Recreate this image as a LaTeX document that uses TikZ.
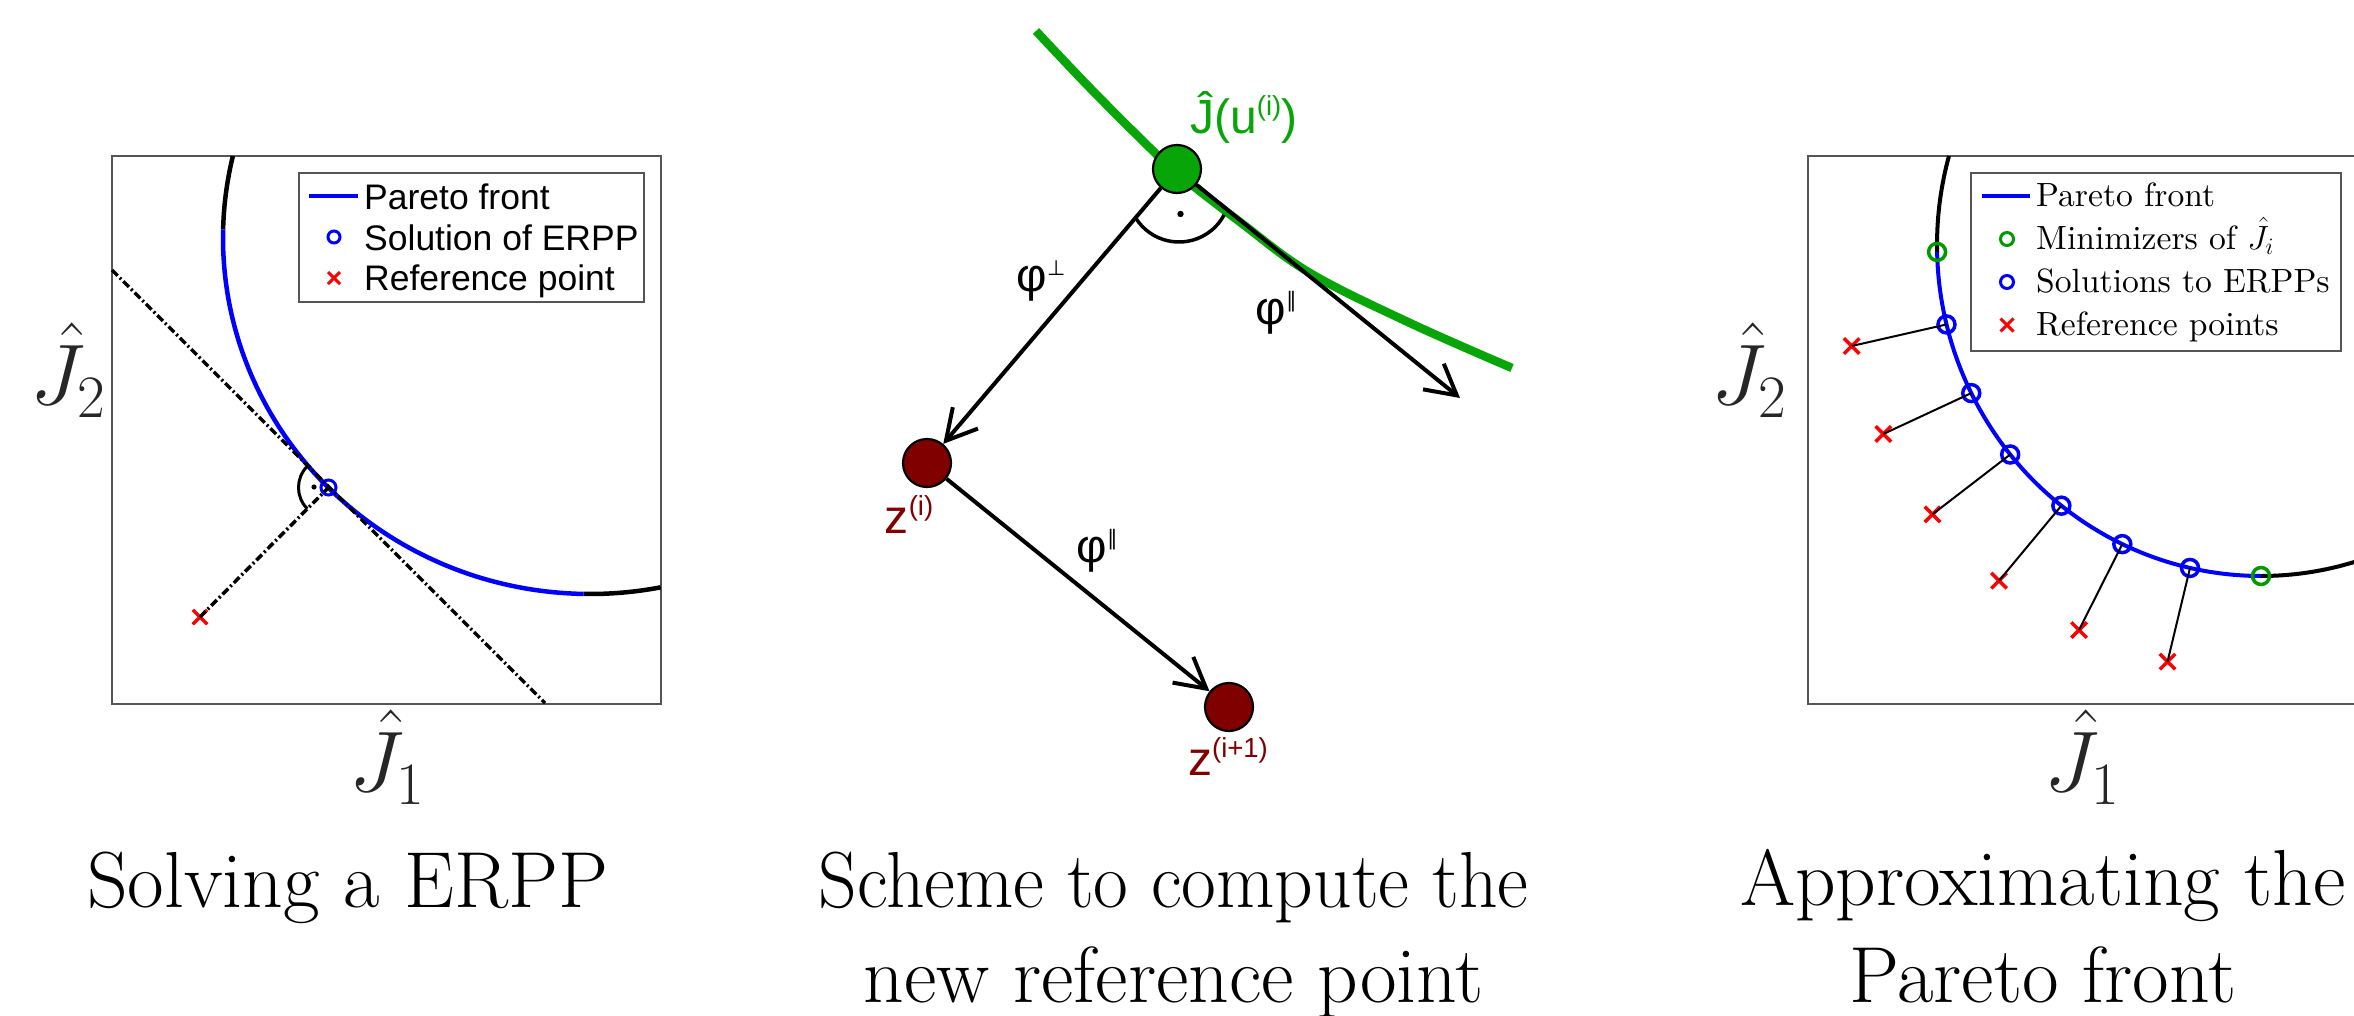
\RequirePackage{fix-cm}
\documentclass[tikz,border=0pt]{standalone}
\usepackage{fontspec}
\usepackage{graphicx}
\setmainfont{Latin Modern Roman}
\newfontfamily\lmten{lmroman10-regular.otf}
\newfontfamily\lsans{Liberation Sans}
\newfontfamily\dvs{DejaVu Sans}
\usetikzlibrary{arrows.meta,shapes.misc}
\definecolor{pblue}{RGB}{0,0,255}
\definecolor{pred}{RGB}{255,0,0}
\definecolor{pgreen}{RGB}{0,153,0}
\definecolor{mgreen}{RGB}{8,165,8}
\definecolor{maroon}{RGB}{128,0,0}
\definecolor{boxc}{RGB}{85,85,85}
\definecolor{axc}{RGB}{38,38,38}
\newcommand\capfont{\fontsize{79.5}{95}\selectfont}
\newcommand\axfont{\fontsize{86}{100}\selectfont}
\newcommand\midfont{\lsans\fontsize{48}{55}\selectfont}
\newcommand\sups[1]{\raisebox{0.36em}{\fontsize{27.5}{32}\selectfont #1}}
\newcommand\phisup[1]{φ\raisebox{0.36em}{\dvs\fontsize{21}{24}\selectfont #1}}
\tikzset{
  frame/.style={draw=boxc, line width=1.6},
  legbox/.style={draw=boxc, line width=1.3, fill=white},
  front/.style={line width=4.5, draw=pblue},
  rest/.style={line width=4.5, draw=black},
  solmark/.style={circle, draw=pblue, line width=3, minimum size=15pt, inner sep=0pt},
  minmark/.style={circle, draw=pgreen, line width=3.5, minimum size=17pt, inner sep=0pt},
  refmark/.style={cross out, draw=pred, line width=3.5, minimum size=11pt, inner sep=0pt},
  dashdot/.style={line width=3.5, dash pattern=on 8pt off 3pt on 2pt off 3pt},
  ptnode/.style={circle, draw=black, line width=2.2, minimum size=48pt, inner sep=0pt},
  arr/.style={line width=4, -{Straight Barb[length=30pt,width=33pt]}},
  legsans/.style={anchor=base west, font=\lsans\fontsize{35.5}{40}\selectfont, inner sep=0pt},
  legserif/.style={anchor=base west, font=\lmten\fontsize{33.6}{40}\selectfont, inner sep=0pt},
  captext/.style={anchor=base, font=\capfont, inner sep=0pt},
  axlab/.style={text=axc, font=\axfont, inner sep=0pt},
  midlab/.style={font=\midfont, inner sep=0pt},
  philab/.style={font=\lsans\fontsize{47}{54}\selectfont, inner sep=0pt}
}
\begin{document}
\begin{tikzpicture}[x=1pt,y=-1pt]
\useasboundingbox (0,0) rectangle (2354,1015);
\fill[white] (0,0) rectangle (2354,1015);

% ---------------- left panel ----------------
\draw[frame] (112,156) rectangle (661,704);
\draw[rest] plot[domain=193.3:181.4, samples=20] ({590+367*cos(\x)},{238+356*sin(\x)});
\draw[front] plot[domain=181.4:91, samples=80] ({590+367*cos(\x)},{238+356*sin(\x)});
\draw[rest] plot[domain=91:78.9, samples=20] ({590+367*cos(\x)},{238+356*sin(\x)});
\coordinate (tA) at (112,270);
\coordinate (tB) at (545,703);
\node[solmark] (sol) at (328.5,487.5) {};
\node[refmark] (ref) at (200,617) {};
\draw[dashdot] (tA) -- (tB);
\draw[dashdot] (ref.center) -- (sol.center);
\draw[line width=3] (sol.center) ++(135:30) arc[start angle=135, end angle=225, radius=30];
\fill (314,487) circle[radius=2.6];
\draw[legbox] (299,173) rectangle (644,302);
\draw[front] (309,196) -- (358,196);
\node[legsans] (l1) at (364,209) {Pareto front};
\node[solmark, minimum size=12pt] (lm2) at (334,237) {};
\node[legsans] (l2) at (364,250) {Solution of ERPP};
\node[refmark, minimum size=9pt, line width=3] (lm3) at (334,278) {};
\node[legsans] (l3) at (364,290.5) {Reference point};
\node[axlab] (aj2) at (68,370) {$\hat{J}_2$};
\node[axlab] (aj1) at (387,757) {$\hat{J}_1$};
\node[captext] (c1) at (347.5,907) {Solving a ERPP};

% ---------------- middle panel ----------------
\draw[line width=8.5, mgreen] plot[smooth, tension=0.6] coordinates {(1036,31) (1090,88) (1150,148) (1177,173) (1240,222) (1310,273) (1410,323) (1512,368)};
\node[ptnode, fill=mgreen] (g) at (1177,169) {};
\node[ptnode, fill=maroon] (zi) at (927,463) {};
\node[ptnode, fill=maroon] (zn) at (1229,707) {};
\coordinate (pe) at (1460,398);
\draw[arr] (g) -- (zi);
\draw[arr] (g) -- (pe);
\draw[arr] (zi) -- (zn);
\draw[line width=3.5] (1179,191) ++(148:51) arc[start angle=148, end angle=28, radius=51];
\fill (1180.5,214) circle[radius=3.2];
\node[midlab, text=mgreen, anchor=base west] (gl) at (1190,133) {Ĵ(u\sups{(i)})};
\node[philab] (p1) at (1041,281) {\phisup{⊥}};
\node[philab] (p2) at (1276,313) {\phisup{∥}};
\node[philab] (p3) at (1097,551) {\phisup{∥}};
\node[midlab, text=maroon, anchor=base] (zil) at (909,533) {z\sups{(i)}};
\node[midlab, text=maroon, anchor=base] (znl) at (1228,775) {z\sups{(i+1)}};
\node[captext] (c2a) at (1173.5,907) {\scalebox{0.95}[1]{Scheme to compute the}};
\node[captext] (c2b) at (1173.5,1002) {new reference point};

% ---------------- right panel ----------------
\draw[frame] (2360,156) -- (1808,156) -- (1808,704) -- (2360,704);
\draw[rest, line width=4] plot[domain=195.6:178.8, samples=20] ({2261+324*cos(\x)},{245+331*sin(\x)});
\draw[front, line width=4] plot[domain=178.8:90, samples=80] ({2261+324*cos(\x)},{245+331*sin(\x)});
\draw[rest, line width=4] plot[domain=90:73, samples=20] ({2261+324*cos(\x)},{245+331*sin(\x)});
\node[minmark] (m1) at ({2261+324*cos(178.8)},{245+331*sin(178.8)}) {};
\node[minmark] (m2) at (2261,576) {};
\foreach \k/\rx/\ry in {1/1851.7/346, 2/1883.3/434, 3/1932.5/514.3, 4/1999/580.7, 5/2079/630, 6/2167.5/661.7}{
  \pgfmathsetmacro\th{178.8-12.69*\k}
  \node[solmark, minimum size=17pt, line width=3.5] (s\k) at ({2261+324*cos(\th)},{245+331*sin(\th)}) {};
  \node[refmark, minimum size=12pt] (r\k) at (\rx,\ry) {};
  \draw[line width=2] (r\k.center) -- (s\k.center);
}
\draw[legbox] (1971,173) rectangle (2341,351);
\draw[front, line width=4] (1982,196) -- (2030,196);
\node[legserif] (rl1) at (2036,206) {Pareto front};
\node[minmark, minimum size=13pt, line width=3] (rm2) at (2007,239) {};
\node[legserif] (rl2) at (2036,249) {Minimizers of $\hat{J}_i$};
\node[solmark, minimum size=13pt, line width=3] (rm3) at (2007,282) {};
\node[legserif] (rl3) at (2036,292) {Solutions to ERPPs};
\node[refmark, minimum size=10pt, line width=3] (rm4) at (2007,325) {};
\node[legserif] (rl4) at (2036,335) {Reference points};
\node[axlab] (bj2) at (1749,370) {$\hat{J}_2$};
\node[axlab] (bj1) at (2082,757) {$\hat{J}_1$};
\node[captext] (c3a) at (2042.7,905) {Approximating the};
\node[captext] (c3b) at (2042.7,1002) {Pareto front};
\end{tikzpicture}
\end{document}
